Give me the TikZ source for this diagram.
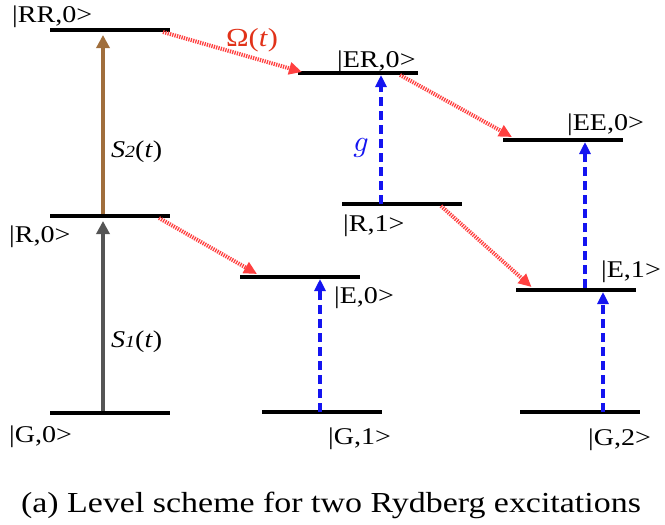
\documentclass[tikz,border=0pt]{standalone}
\usepackage{fontspec}
\setmainfont[FakeStretch=1.17]{Liberation Serif}
\usetikzlibrary{arrows.meta}
\definecolor{brownarr}{RGB}{160,110,60}
\definecolor{grayarr}{RGB}{85,85,85}
\definecolor{reddot}{RGB}{255,64,64}
\definecolor{bluedash}{RGB}{20,20,240}
\definecolor{omegared}{RGB}{225,50,25}
\begin{document}
\begin{tikzpicture}[x=1pt,y=-1pt,
  lvl/.style={fill=black, minimum width=120pt, minimum height=4pt, inner sep=0pt, outer sep=0pt},
  lab/.style={anchor=base west, inner sep=0pt, font=\fontsize{24}{28}\selectfont},
  solidarr/.style={line width=4.5pt, -{Triangle[length=13pt,width=13pt]}},
  dotarr/.style={reddot, line width=4pt, dash pattern=on 1.3pt off 1.1pt, -{Triangle[length=13pt,width=12pt]}},
  dasharr/.style={bluedash, line width=4pt, dash pattern=on 9pt off 5pt, -{Triangle[length=12pt,width=11pt]}},
]
\useasboundingbox (0,0) rectangle (665,525);
% levels
\node[lvl] (RR) at (110,30) {};
\node[lvl] (R0) at (110,216) {};
\node[lvl] (G0) at (110,413) {};
\node[lvl] (ER) at (358,73) {};
\node[lvl] (R1) at (402,204) {};
\node[lvl] (E0) at (300,277) {};
\node[lvl] (G1) at (322,412) {};
\node[lvl] (EE) at (563,140) {};
\node[lvl] (E1) at (575.5,290) {};
\node[lvl] (G2) at (579.5,412) {};
% level labels
\node[lab] (lRR) at (12,22) {|RR,0>};
\node[lab] (lR0) at (9,242) {|R,0>};
\node[lab] (lG0) at (9,442) {|G,0>};
\node[lab] (lER) at (337,67) {|ER,0>};
\node[lab] (lEE) at (567,130) {|EE,0>};
\node[lab] (lR1) at (343,231) {|R,1>};
\node[lab] (lE0) at (334,303) {|E,0>};
\node[lab] (lE1) at (601,277) {|E,1>};
\node[lab] (lG1) at (328,444) {|G,1>};
\node[lab] (lG2) at (588,445) {|G,2>};
% solid arrows
\draw[solidarr, grayarr] ([xshift=-7pt]G0.north) -- ([xshift=-7pt,yshift=-3pt]R0.south);
\draw[solidarr, brownarr] ([xshift=-7pt]R0.north) -- ([xshift=-7pt,yshift=-3pt]RR.south);
\node[lab] (s2) at (111,157) {\textit{S}{\fontsize{17}{17}\selectfont\textit{2}}(\textit{t})};
\node[lab] (s1) at (111,347) {\textit{S}{\fontsize{17}{17}\selectfont\textit{1}}(\textit{t})};
% red dotted arrows
\draw[dotarr] ([xshift=-7pt,yshift=-2pt]RR.east) -- ([xshift=4pt,yshift=1pt]ER.west);
\draw[dotarr] ([xshift=-11pt,yshift=-2pt]R0.east) -- ([xshift=17pt,yshift=3pt]E0.west);
\draw[dotarr] ([xshift=-18pt,yshift=-2pt]ER.east) -- ([xshift=9pt,yshift=3pt]EE.west);
\draw[dotarr] ([xshift=-21pt,yshift=-2pt]R1.east) -- ([xshift=16pt,yshift=3pt]E1.west);
\node[text=omegared, font=\fontsize{26}{30}\selectfont, inner sep=0pt] (om) at (252,40) {Ω(\textit{t})};
% blue dashed arrows
\draw[dasharr] ([xshift=-21pt,yshift=-2pt]R1.north) -- ([xshift=23pt]ER.south);
\draw[dasharr] ([xshift=-2pt,yshift=-2pt]G1.north) -- ([xshift=20pt]E0.south);
\draw[dasharr] ([xshift=9.5pt]E1.north) -- ([xshift=22pt]EE.south);
\draw[dasharr] ([xshift=23.5pt,yshift=-2pt]G2.north) -- ([xshift=27.5pt]E1.south);
\node[text=bluedash, inner sep=0pt] (g) at (361,148) {\scalebox{3}{$g$}};
% caption
\node[anchor=base, inner sep=0pt, font=\fontsize{29}{34}\selectfont] (cap) at (331,512) {(a) Level scheme for two Rydberg excitations};
\end{tikzpicture}
\end{document}
